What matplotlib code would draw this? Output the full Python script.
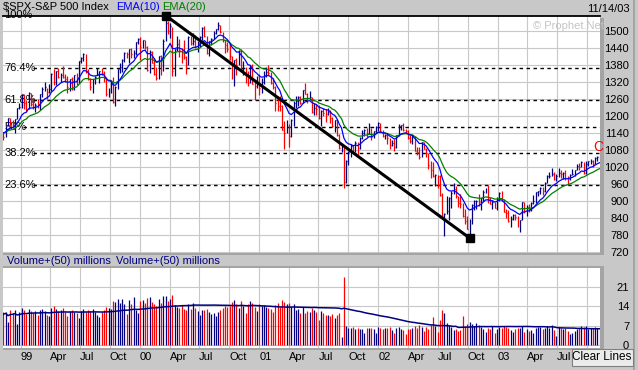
import numpy as np
import pandas as pd
import matplotlib
matplotlib.use("Agg")
import matplotlib.pyplot as plt
import matplotlib.dates as mdates
from matplotlib.patches import Rectangle
from matplotlib.transforms import blended_transform_factory

plt.rcParams['font.family'] = ['Liberation Sans', 'DejaVu Sans']

# weekly S&P 500 bars, weeks ending Friday 1998-11-06 .. 2003-11-14
week_end = pd.date_range('1998-11-06', '2003-11-14', freq='W-FRI')

close_98 = [1141.0, 1125.7, 1163.6, 1192.3, 1176.7, 1166.5, 1188.0, 1226.3]
high_98 = [1142, 1142, 1165, 1193, 1193, 1183, 1190, 1228]
low_98 = [1097, 1113, 1125, 1162, 1163, 1157, 1139, 1187]

close_99 = [1229.2, 1275.1, 1243.3, 1225.2, 1279.6, 1239.4, 1230.1, 1239.2, 1238.3,
            1275.5, 1294.6, 1299.3, 1282.8, 1293.7, 1348.4, 1319.0, 1356.9, 1335.2,
            1345.0, 1337.8, 1330.3, 1301.8, 1327.8, 1293.6, 1342.8, 1315.3, 1391.2,
            1403.3, 1418.8, 1356.9, 1328.7, 1300.3, 1327.7, 1336.6, 1348.3, 1357.2,
            1351.7, 1335.4, 1277.4, 1282.8, 1317.6, 1247.4, 1301.7, 1362.9, 1370.2,
            1396.1, 1422.0, 1416.6, 1433.3, 1417.0, 1421.0, 1458.3, 1469.3]
high_99 = [1244, 1278, 1276, 1256, 1283, 1280, 1264, 1246, 1258,
           1276, 1300, 1317, 1299, 1311, 1349, 1363, 1358, 1368,
           1352, 1375, 1346, 1339, 1328, 1338, 1345, 1350, 1392,
           1405, 1421, 1418, 1365, 1331, 1330, 1339, 1367, 1358,
           1368, 1358, 1337, 1298, 1327, 1337, 1304, 1364, 1387,
           1398, 1424, 1426, 1436, 1440, 1433, 1459, 1474]
low_99 = [1222, 1226, 1224, 1218, 1225, 1235, 1225, 1212, 1226,
          1220, 1266, 1287, 1259, 1280, 1288, 1308, 1307, 1331,
          1320, 1331, 1318, 1281, 1286, 1289, 1291, 1308, 1314,
          1384, 1392, 1352, 1325, 1289, 1281, 1310, 1345, 1315,
          1342, 1318, 1268, 1267, 1281, 1245, 1233, 1294, 1349,
          1355, 1389, 1404, 1384, 1402, 1404, 1414, 1453]

close_00 = [1441.5, 1465.2, 1441.4, 1360.2, 1424.4, 1387.1, 1346.1, 1333.4, 1409.2,
            1395.1, 1464.5, 1527.5, 1498.6, 1516.4, 1356.6, 1434.5, 1452.4, 1432.6,
            1421.0, 1407.0, 1378.0, 1477.3, 1457.0, 1464.5, 1441.5, 1454.6, 1478.9,
            1510.0, 1480.2, 1419.9, 1462.9, 1471.8, 1491.7, 1506.5, 1520.8, 1494.5,
            1465.8, 1448.7, 1436.5, 1409.0, 1374.2, 1396.9, 1379.6, 1426.7, 1366.0,
            1367.7, 1341.8, 1315.2, 1369.9, 1312.2, 1306.0, 1320.3]
high_00 = [1478, 1466, 1466, 1444, 1430, 1428, 1403, 1372, 1410,
           1413, 1470, 1553, 1534, 1527, 1512, 1435, 1482, 1469,
           1438, 1466, 1410, 1482, 1479, 1493, 1486, 1463, 1480,
           1511, 1517, 1482, 1464, 1475, 1500, 1507, 1530, 1521,
           1496, 1467, 1460, 1455, 1410, 1397, 1403, 1432, 1435,
           1394, 1372, 1359, 1377, 1381, 1321, 1341]
low_00 = [1397, 1438, 1436, 1357, 1350, 1386, 1344, 1325, 1329,
          1345, 1359, 1462, 1488, 1474, 1339, 1339, 1428, 1408,
          1385, 1398, 1346, 1377, 1448, 1449, 1438, 1423, 1443,
          1466, 1476, 1416, 1410, 1448, 1469, 1488, 1502, 1491,
          1461, 1421, 1426, 1397, 1329, 1305, 1342, 1379, 1361,
          1342, 1316, 1305, 1314, 1310, 1254, 1298]

close_01 = [1298.4, 1318.6, 1342.5, 1355.0, 1349.5, 1314.8, 1301.5, 1245.9, 1234.2,
            1233.4, 1150.5, 1139.8, 1160.3, 1128.4, 1183.5, 1243.0, 1253.1, 1266.6,
            1245.7, 1292.0, 1277.9, 1260.7, 1265.0, 1214.4, 1225.4, 1224.4, 1190.6,
            1215.7, 1210.9, 1205.8, 1214.4, 1190.2, 1162.0, 1184.9, 1133.6, 1085.8,
            1092.5, 965.8, 1040.9, 1071.4, 1091.7, 1073.5, 1104.6, 1087.2, 1120.3,
            1138.7, 1150.3, 1139.5, 1158.3, 1123.1, 1144.9, 1161.0]
high_01 = [1347, 1334, 1357, 1370, 1377, 1355, 1331, 1303, 1268,
           1268, 1238, 1180, 1183, 1170, 1187, 1253, 1269, 1268,
           1268, 1292, 1316, 1279, 1287, 1267, 1244, 1240, 1237,
           1219, 1226, 1222, 1226, 1220, 1195, 1186, 1188, 1136,
           1097, 1092, 1042, 1075, 1100, 1098, 1111, 1108, 1124,
           1148, 1152, 1157, 1173, 1158, 1146, 1165]
low_01 = [1274, 1280, 1313, 1338, 1345, 1311, 1294, 1215, 1215,
          1218, 1148, 1082, 1139, 1091, 1126, 1165, 1226, 1233,
          1240, 1243, 1275, 1245, 1255, 1209, 1204, 1204, 1190,
          1165, 1199, 1179, 1202, 1173, 1160, 1143, 1129, 1084,
          1073, 944, 963, 1026, 1053, 1067, 1073, 1054, 1083,
          1116, 1130, 1125, 1135, 1115, 1123, 1139]

close_02 = [1172.5, 1145.6, 1127.6, 1133.3, 1122.2, 1096.2, 1104.2, 1089.8, 1131.8,
            1164.3, 1166.2, 1148.7, 1147.4, 1122.7, 1111.0, 1125.2, 1076.3, 1073.4,
            1055.0, 1106.6, 1083.8, 1067.1, 1027.5, 1007.3, 989.1, 989.8, 989.0,
            921.4, 847.8, 852.8, 864.2, 908.6, 928.8, 940.9, 916.1, 893.9,
            889.8, 845.4, 827.4, 800.6, 835.3, 884.4, 897.7, 901.0, 894.7,
            909.8, 930.6, 936.3, 906.6, 889.5, 895.8, 875.4]
high_02 = [1176, 1173, 1150, 1137, 1140, 1123, 1113, 1117, 1132,
           1172, 1168, 1174, 1154, 1148, 1131, 1131, 1127, 1089,
           1088, 1108, 1107, 1085, 1070, 1040, 1036, 993, 990,
           990, 927, 857, 916, 912, 935, 962, 951, 918,
           925, 892, 870, 848, 836, 887, 904, 902, 924,
           911, 937, 944, 954, 913, 903, 897]
low_02 = [1147, 1142, 1124, 1118, 1100, 1081, 1094, 1074, 1086,
          1130, 1150, 1146, 1139, 1119, 1102, 1101, 1075, 1063,
          1048, 1054, 1083, 1055, 1012, 981, 985, 952, 946,
          918, 845, 775, 852, 833, 876, 925, 910, 877,
          873, 843, 817, 800, 769, 819, 868, 872, 882,
          868, 899, 928, 893, 887, 871, 874]

close_03 = [908.6, 927.6, 901.8, 861.4, 855.7, 829.7, 834.9, 851.2, 841.2,
            828.9, 833.3, 895.8, 863.5, 878.9, 868.3, 893.6, 898.8, 930.1,
            933.4, 946.7, 933.2, 963.6, 987.8, 988.6, 995.7, 976.2, 985.7,
            998.1, 993.3, 998.7, 980.2, 977.6, 990.7, 993.1, 1008.0, 1021.4,
            1018.6, 1036.3, 996.9, 1029.9, 1038.7, 1039.3, 1028.9, 1050.7, 1053.2,
            1050.4]
high_03 = [912, 932, 935, 907, 870, 867, 845, 853, 852,
           846, 834, 896, 895, 885, 888, 894, 919, 931,
           936, 948, 947, 965, 990, 1002, 1015, 1000, 994,
           1015, 1010, 1000, 1008, 986, 993, 1011, 1009, 1030,
           1033, 1040, 1038, 1040, 1040, 1049, 1044, 1054, 1058,
           1063]
low_03 = [869, 899, 899, 860, 838, 826, 806, 833, 832,
          807, 789, 833, 856, 847, 862, 865, 887, 892,
          918, 924, 919, 930, 961, 979, 986, 975, 971,
          984, 980, 977, 975, 960, 975, 990, 987, 1008,
          1009, 1018, 996, 995, 1024, 1031, 1018, 1028, 1041,
          1044]

# weekly volume (chart units)
vol_98 = [10.5, 11.8, 12.0, 8.2, 12.5, 11.6, 12.8, 7.6]
vol_99 = [12.0, 13.4, 12.6, 11.2, 12.9, 12.4, 11.7, 12.2, 10.8, 12.6, 13.1, 12.3, 11.0,
          10.5, 13.5, 14.2, 13.0, 12.4, 12.7, 13.3, 11.9, 10.6, 12.3, 12.8, 12.1, 11.5,
          9.8, 12.2, 13.0, 12.1, 12.5, 12.4, 13.1, 11.8, 10.9, 10.2, 12.0, 12.6, 13.8,
          13.5, 13.0, 16.0, 15.6, 16.4, 15.2, 16.6, 14.8, 11.2, 16.3, 14.9, 17.2, 12.8, 11.6]
vol_00 = [15.8, 16.2, 15.0, 16.8, 17.1, 15.4, 14.6, 14.0, 16.5, 15.2, 17.8, 17.5, 15.9,
          16.7, 18.0, 14.3, 13.8, 13.2, 14.5, 13.0, 12.6, 14.8, 13.1, 15.0, 13.4, 12.2,
          11.0, 12.8, 12.5, 13.0, 11.9, 11.2, 11.5, 10.6, 11.8, 12.7, 13.3, 14.0, 13.6,
          13.9, 15.4, 16.3, 14.7, 13.5, 15.8, 14.1, 11.6, 14.9, 16.0, 15.3, 13.8, 12.4]
vol_01 = [14.8, 13.9, 14.5, 13.7, 13.2, 12.9, 12.1, 14.4, 15.0, 13.8, 16.2, 15.5, 14.7,
          15.1, 13.6, 14.9, 12.7, 12.9, 11.4, 13.8, 11.6, 12.4, 11.9, 13.5, 12.6, 11.8,
          9.2, 12.3, 11.5, 10.8, 11.0, 10.6, 11.2, 9.9, 10.8, 11.6, 3.0, 24.5, 6.8,
          6.4, 6.2, 6.6, 5.8, 6.3, 6.0, 5.7, 4.6, 6.1, 6.4, 6.2, 5.9, 4.3]
vol_02 = [6.5, 6.3, 5.9, 6.1, 6.4, 6.6, 5.5, 4.4, 6.2, 6.7, 5.9, 5.6, 4.1,
          6.0, 5.8, 6.4, 6.9, 6.3, 7.4, 6.5, 5.2, 6.6, 6.0, 7.2, 10.0, 6.8,
          4.9, 9.0, 12.6, 11.5, 8.0, 7.2, 6.5, 5.4, 5.9, 5.0, 5.6, 10.4, 6.5,
          7.5, 8.5, 7.6, 6.9, 8.0, 7.2, 6.6, 6.0, 4.8, 6.3, 5.9, 6.8, 4.4]
vol_03 = [5.8, 6.6, 6.2, 6.9, 6.5, 6.3, 5.4, 4.9, 6.0, 6.4, 6.2, 7.1, 4.8,
          6.0, 5.2, 5.5, 4.6, 6.3, 6.5, 6.7, 5.8, 6.1, 7.0, 6.4, 7.3, 5.5,
          3.5, 6.6, 6.2, 5.8, 6.1, 5.0, 4.2, 4.6, 5.3, 6.0, 6.3, 6.8, 6.5,
          6.9, 5.9, 6.4, 6.2, 6.7, 6.3, 6.0]

close = np.array(close_98 + close_99 + close_00 + close_01 + close_02 + close_03)
high = np.array(high_98 + high_99 + high_00 + high_01 + high_02 + high_03, dtype=float)
low = np.array(low_98 + low_99 + low_00 + low_01 + low_02 + low_03, dtype=float)
volume = np.array(vol_98 + vol_99 + vol_00 + vol_01 + vol_02 + vol_03)

fib_levels = [0.236, 0.382, 0.5, 0.618, 0.764]
fib_labels = ['23.6%', '38.2%', '50%', '61.8%', '76.4%']
price_ticks = list(range(720, 1501, 60))
vol_ticks = [0, 7, 14, 21]

NAVY = '#000080'
RED = '#ff0000'
GRID = '#c8c8c8'
W, H = 638, 370


def px_rect(x0, y0, x1, y1):
    return [x0 / W, 1 - y1 / H, (x1 - x0) / W, (y1 - y0) / H]


# bars drawn at the start of each week
dates = mdates.date2num(week_end - pd.Timedelta(days=4))
prev = np.concatenate([[close[0]], close[:-1]])
colors = np.where(close < prev, RED, NAVY)

ema10 = pd.Series(close).ewm(span=10, adjust=False).mean()
ema20 = pd.Series(close).ewm(span=20, adjust=False).mean()
vol_ma = pd.Series(volume).rolling(50, min_periods=1).mean()

# x scale: Jan 1999 grid at px 20.7, Oct 2003 grid at px 586.7
jan99 = mdates.date2num(pd.Timestamp('1999-01-01'))
oct03 = mdates.date2num(pd.Timestamp('2003-10-01'))
px_per_day = (586.7 - 20.7) / (oct03 - jan99)
xlim = (jan99 - (20.7 - 3) / px_per_day, jan99 + (600 - 20.7) / px_per_day)

quarters = pd.date_range('1999-01-01', '2003-10-01', freq='QS')
q_labels = [f"{d.year % 100:02d}" if d.month == 1 else d.strftime('%b') for d in quarters]
q_labels[-1] = ''  # last label sits under the "Clear Lines" button
q_nums = mdates.date2num(quarters)

fig = plt.figure(figsize=(W / 100, H / 100), dpi=100, facecolor='#c8c8c8')

# ---- price panel
ax = fig.add_axes(px_rect(3, 15.5, 600, 253))
ax.set_facecolor('white')
ax.set_xlim(*xlim)
ax.set_ylim(716, high.max())
ax.set_axisbelow(True)
ax.set_xticks(q_nums)
ax.set_xticklabels([])
ax.set_yticks(price_ticks)
ax.yaxis.tick_right()
ax.tick_params(length=0, labelsize=8, pad=21)
for t in ax.get_yticklabels():
    t.set_horizontalalignment('right')
ax.grid(True, color=GRID, lw=0.8)
for side in ['left', 'right', 'bottom']:
    ax.spines[side].set_visible(False)
ax.spines['top'].set_color('black')
ax.spines['top'].set_linewidth(1.3)

hi, lo = high.max(), low.min()
trans = blended_transform_factory(ax.transAxes, ax.transData)
ax.text(0.002, hi, '100%', transform=trans, fontsize=8, va='center', ha='left', clip_on=False)
for lev, lab in zip(fib_levels, fib_labels):
    y = lo + lev * (hi - lo)
    start = 0.034 if lab == '50%' else 0.05
    ax.axhline(y, xmin=start, color='black', lw=1.0, dashes=(2.5, 2.5), zorder=1)
    ax.text(0.002, y, lab, transform=trans, fontsize=8, va='center', ha='left', zorder=1)

ax.vlines(dates, low, high, colors=colors, lw=0.9, zorder=2)
ax.hlines(close, dates, dates + 3, colors=colors, lw=0.9, zorder=2)
ax.plot(dates, ema20, color='#008000', lw=0.9, zorder=3)
ax.plot(dates, ema10, color='#0000ff', lw=0.9, zorder=3)

i_hi, i_lo = int(np.argmax(high)), int(np.argmin(low))
ax.plot([dates[i_hi], dates[i_lo]], [hi, lo], color='black', lw=2.2, zorder=4,
        solid_capstyle='butt')
ax.plot([dates[i_hi], dates[i_lo]], [hi, lo], 's', color='black', ms=6, zorder=5,
        clip_on=False)

# ---- volume panel
axv = fig.add_axes(px_rect(3, 268, 600, 348))
axv.set_facecolor('white')
axv.set_xlim(*xlim)
axv.set_ylim(-0.9, 27.6)
axv.set_axisbelow(True)
axv.set_yticks(vol_ticks)
axv.yaxis.tick_right()
axv.set_xticks(q_nums)
axv.set_xticklabels(q_labels)
axv.tick_params(length=0, labelsize=8)
axv.tick_params(axis='y', pad=21)
axv.tick_params(axis='x', pad=3)
for t in axv.get_yticklabels():
    t.set_horizontalalignment('right')
for t in axv.get_xticklabels():
    t.set_horizontalalignment('left')
axv.grid(True, color=GRID, lw=0.8)
for side in axv.spines:
    axv.spines[side].set_visible(False)
axv.vlines(dates, 0, volume, colors=colors, lw=0.9, zorder=2)
axv.plot(dates, vol_ma, color=NAVY, lw=1.1, zorder=3)

# ---- frame decorations
for rect in [(600, 18, 604, 253), (600, 268, 604, 348), (3, 253, 604, 255),
             (3, 266, 604, 268), (3, 348, 604, 350), (633, 0, 635, 370)]:
    x0, y0, x1, y1 = rect
    fig.add_artist(Rectangle((x0 / W, 1 - y1 / H), (x1 - x0) / W, (y1 - y0) / H,
                             transform=fig.transFigure, color='#a4a4a4', lw=0))

fig.text(3 / W, 1 - 7 / H, r'\$SPX-S&P 500 Index', fontsize=8, va='center')
fig.text(116 / W, 1 - 7 / H, 'EMA(10)', fontsize=8, va='center', color='#0000ff')
fig.text(162 / W, 1 - 7 / H, 'EMA(20)', fontsize=8, va='center', color='#008000')
fig.text(630 / W, 1 - 9 / H, '11/14/03', fontsize=8, va='center', ha='right')
fig.text(533 / W, 1 - 26 / H, '\u00a9 Prophet.Net', fontsize=8, va='center',
         color='#c4c4c4')
fig.text(598 / W, 1 - 147 / H, 'C', fontsize=10, va='center', ha='center', color=RED)
fig.text(7 / W, 1 - 261 / H, 'Volume+(50) millions', fontsize=8, va='center', color=NAVY)
fig.text(116 / W, 1 - 261 / H, 'Volume+(50) millions', fontsize=8, va='center', color=NAVY)

fig.add_artist(Rectangle((572 / W, 1 - 366 / H), 61 / W, 17 / H, transform=fig.transFigure,
                         facecolor='#ececec', edgecolor='#808080', lw=0.8, zorder=10))
fig.text(602 / W, 1 - 357.5 / H, 'Clear Lines', fontsize=8.5, va='center', ha='center',
         zorder=11)

fig.savefig('out.png', dpi=100, facecolor=fig.get_facecolor())
